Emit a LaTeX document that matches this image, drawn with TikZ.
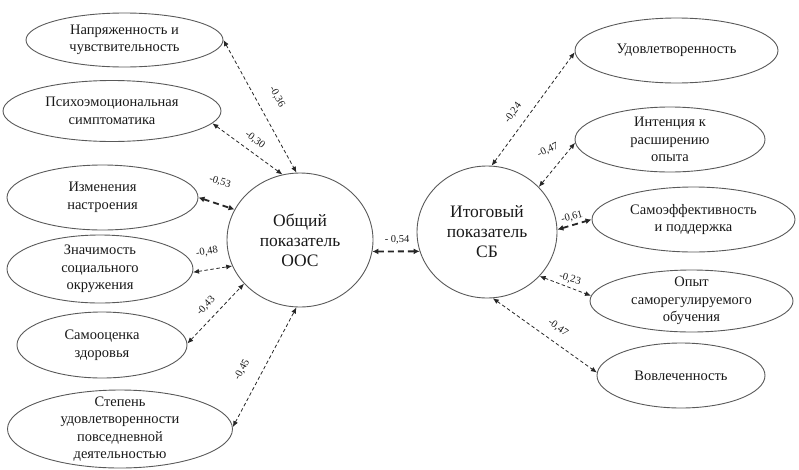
\documentclass[tikz,border=0pt]{standalone}
\usepackage{fontspec}
\setmainfont{Liberation Serif}
\usetikzlibrary{shapes.geometric,arrows.meta}
\begin{document}
\begin{tikzpicture}[x=1pt,y=-1pt,
  oval/.style={ellipse, draw=black!65, line width=0.9pt, inner sep=0pt},
  txt/.style={align=center, font=\fontsize{14.5}{17.5}\selectfont, text=black!90},
  big/.style={align=center, font=\fontsize{17.5}{20}\selectfont, text=black!90},
  lbl/.style={font=\fontsize{10.5}{12}\selectfont, text=black!90, inner sep=1pt},
  link/.style={draw=black!85, line width=0.8pt, dash pattern=on 3.5pt off 2.5pt,
    {Latex[length=6pt,width=5pt]}-{Latex[length=6pt,width=5pt]}},
  strong/.style={draw=black!85, line width=1.8pt, dash pattern=on 6pt off 4pt,
    {Latex[length=6pt,width=6pt]}-{Latex[length=6pt,width=6pt]}}
]
\useasboundingbox (0,0) rectangle (799,469);

% left ellipses
\node[oval, minimum width=197pt, minimum height=54pt,
  label={[txt]center:Напряженность и\\чувствительность}] (L1) at (124.5,40) {};
\node[oval, minimum width=218pt, minimum height=61pt,
  label={[txt]center:Психоэмоциональная\\симптоматика}] (L2) at (112,111) {};
\node[oval, minimum width=191pt, minimum height=65pt,
  label={[txt]center:Изменения\\настроения}] (L3) at (102.5,197.5) {};
\node[oval, minimum width=186pt, minimum height=68pt,
  label={[txt]center:Значимость\\социального\\окружения}] (L4) at (100,269) {};
\node[oval, minimum width=170pt, minimum height=66pt,
  label={[txt]center:Самооценка\\здоровья}] (L5) at (102,345) {};
\node[oval, minimum width=225pt, minimum height=78pt,
  label={[txt]center:Степень\\удовлетворенности\\повседневной\\деятельностью}] (L6) at (120,429) {};

% central circles
\node[oval, minimum width=146pt, minimum height=134pt,
  label={[big]center:Общий\\показатель\\ООС}] (C1) at (300,240) {};
\node[oval, minimum width=140pt, minimum height=132pt,
  label={[big]center:Итоговый\\показатель\\СБ}] (C2) at (487,232) {};

% right ellipses
\node[oval, minimum width=203pt, minimum height=65pt,
  label={[txt]center:Удовлетворенность}] (R1) at (676.5,50.5) {};
\node[oval, minimum width=190pt, minimum height=65pt,
  label={[txt]center:Интенция к\\расширению\\опыта}] (R2) at (670,139.5) {};
\node[oval, minimum width=203pt, minimum height=65pt,
  label={[txt]center:Самоэффективность\\и поддержка}] (R3) at (693.5,219.5) {};
\node[oval, minimum width=203pt, minimum height=62pt,
  label={[txt]center:Опыт\\саморегулируемого\\обучения}] (R4) at (691.5,301) {};
\node[oval, minimum width=168pt, minimum height=65pt,
  label={[txt]center:Вовлеченность}] (R5) at (681,375.5) {};

% connectors (left)
\draw[link] (L1.0) -- (C1.93);
\draw[link] (L2.-7) -- (C1.105);
\draw[strong] (L3.0) -- (C1.155);
\draw[link] (L4.-2.5) -- (C1.201);
\draw[link] (L5.1) -- (C1.218);
\draw[link] (L6.1) -- (C1.267);
\draw[strong] (C1.-9.6) -- (C2.196.6);

% connectors (right)
\draw[link] (C2.86) -- (R1.181.4);
\draw[link] (C2.41.6) -- (R2.182);
\draw[strong] (C2.2.4) -- (R3.180.3);
\draw[link] (C2.-40.3) -- (R4.177.8);
\draw[link] (C2.-85.6) -- (R5.178.3);

% labels
\node[lbl, rotate=-61] (v36) at (277,97) {-0,36};
\node[lbl, rotate=-38] (v30) at (255,140) {-0,30};
\node[lbl, rotate=-16] (v53) at (220,182) {-0,53};
\node[lbl, rotate=10] (v48) at (207,252) {-0,48};
\node[lbl, rotate=46] (v43) at (206,306) {-0,43};
\node[lbl, rotate=62] (v45) at (242,370) {-0,45};
\node[lbl] (v54) at (397,240) {- 0,54};
\node[lbl, rotate=54] (v24) at (513,113) {-0,24};
\node[lbl, rotate=25] (v47a) at (548,150) {-0,47};
\node[lbl, rotate=15] (v61) at (572,217) {-0,61};
\node[lbl, rotate=-15] (v23) at (570,279) {-0,23};
\node[lbl, rotate=-36] (v47b) at (558,328) {-0,47};
\end{tikzpicture}
\end{document}
